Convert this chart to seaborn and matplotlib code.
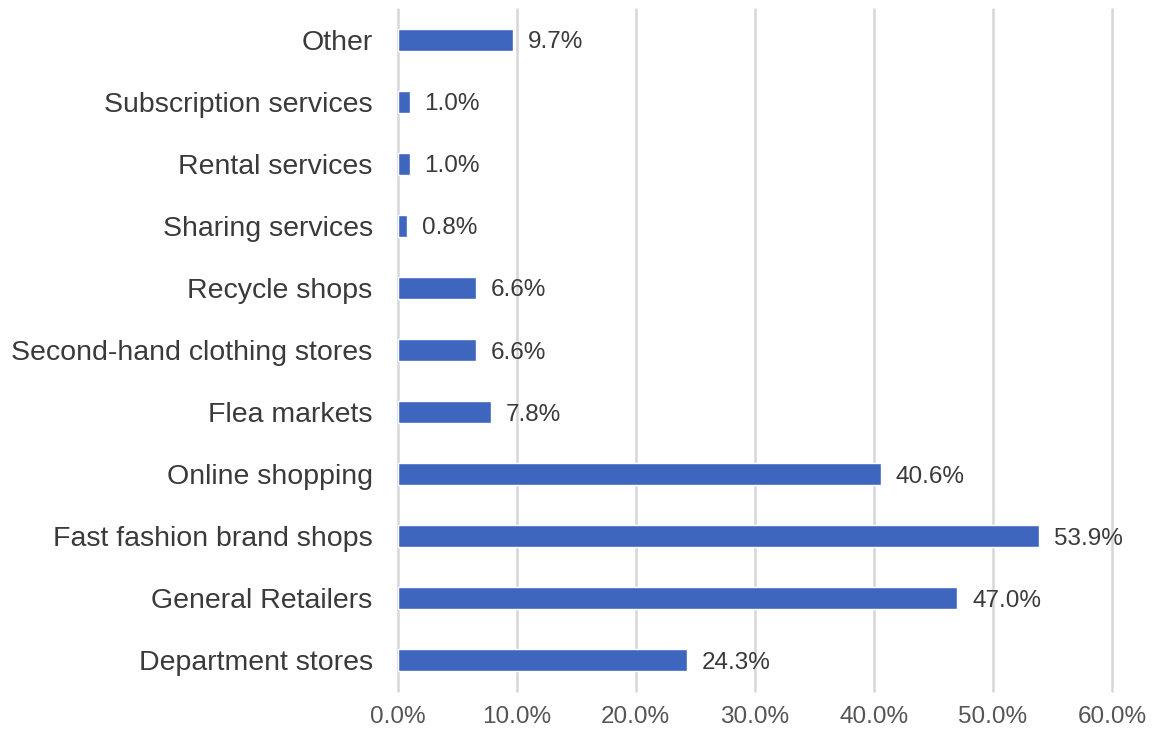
import matplotlib
matplotlib.use("Agg")
import matplotlib.pyplot as plt
import seaborn as sns
import pandas as pd
from matplotlib.ticker import FuncFormatter

categories = [
    "Other",
    "Subscription services",
    "Rental services",
    "Sharing services",
    "Recycle shops",
    "Second-hand clothing stores",
    "Flea markets",
    "Online shopping",
    "Fast fashion brand shops",
    "General Retailers",
    "Department stores",
]
shares = [9.7, 1.0, 1.0, 0.8, 6.6, 6.6, 7.8, 40.6, 53.9, 47.0, 24.3]
x_ticks = [0, 10, 20, 30, 40, 50, 60]

sns.set_theme(style="white")
plt.rcParams["font.family"] = ["Liberation Sans", "DejaVu Sans"]

df = pd.DataFrame({"channel": categories, "share": shares})

fig = plt.figure(figsize=(11.56, 7.33), dpi=100)
ax = fig.add_axes([0.344, 0.057, 0.618, 0.931])

sns.barplot(data=df, x="share", y="channel", orient="h", color="#3F66BF",
            saturation=1, width=0.36, ax=ax, order=categories)

ax.set_xlim(0, 60)
ax.set_ylim(len(categories) - 0.5, -0.5)
ax.set_xticks(x_ticks)
ax.xaxis.set_major_formatter(FuncFormatter(lambda v, _: f"{v:.1f}%"))
ax.grid(axis="x", color="#D6D6D6", linewidth=1.8)
for gl in ax.get_xgridlines():
    gl.set_clip_on(False)
ax.set_axisbelow(True)
for s in ax.spines.values():
    s.set_visible(False)
ax.set_xlabel("")
ax.set_ylabel("")
ax.tick_params(axis="y", length=0, pad=18, labelsize=20.5, labelcolor="#3A3A3A")
ax.tick_params(axis="x", length=0, pad=11, labelsize=17.5, labelcolor="#555555")

for i, v in enumerate(shares):
    ax.text(v + 1.25, i, f"{v:.1f}%", va="center_baseline", ha="left",
            fontsize=17.5, color="#3A3A3A")

fig.savefig("out.png", dpi=100)
